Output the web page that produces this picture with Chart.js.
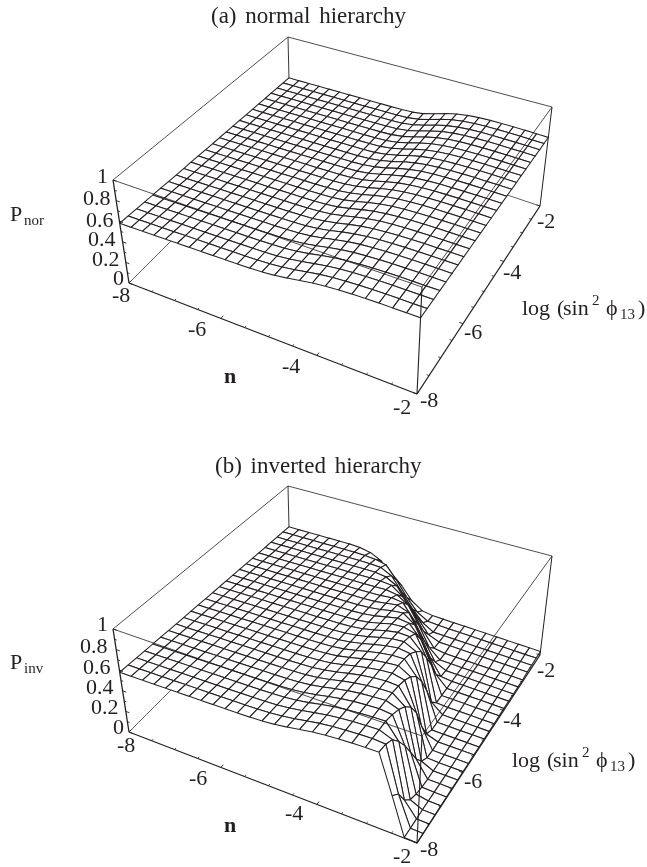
<!DOCTYPE html>
<html>
<head>
<meta charset="utf-8">
<title>P vs n and log(sin^2 phi13)</title>
<style>
  html, body { margin: 0; padding: 0; background: #fff; }
  canvas { display: block; }
</style>
<script src="https://cdn.jsdelivr.net/npm/chart.js@4"></script>
</head>
<body>
<canvas id="plotA" width="647" height="433"></canvas>
<canvas id="plotB" width="647" height="434"></canvas>
<script>
// axis values of the sampled grid
const nValues = [-8,-7.75,-7.5,-7.25,-7,-6.75,-6.5,-6.25,-6,-5.75,-5.5,-5.25,-5,-4.75,-4.5,-4.25,-4,-3.75,-3.5,-3.25,-3,-2.75,-2.5,-2.25,-2];
const sValues = [-8,-7.75,-7.5,-7.25,-7,-6.75,-6.5,-6.25,-6,-5.75,-5.5,-5.25,-5,-4.75,-4.5,-4.25,-4,-3.75,-3.5,-3.25,-3,-2.75,-2.5,-2.25,-2];
const nTicks = [-8,-6,-4,-2];
const sTicks = [-8,-6,-4,-2];
const nMinor = [-7.5,-7,-6.5,-5.5,-5,-4.5,-3.5,-3,-2.5];
const sMinor = [-7.5,-7,-6.5,-5.5,-5,-4.5,-3.5,-3,-2.5];
const pTicks = [0,0.2,0.4,0.6,0.8,1];
const pMinor = [0.1,0.3,0.5,0.7,0.9];

// P in percent. row = s value, column = n value
const pNormal = [
[58.0,58.1,58.3,58.5,58.7,58.9,59.1,59.3,59.5,59.7,59.9,60.2,60.8,61.9,63.6,65.7,67.6,69.0,69.9,70.5,70.9,71.1,71.2,71.2,71.2],
[57.8,57.9,58.1,58.3,58.5,58.7,58.9,59.1,59.3,59.5,59.7,60.0,60.6,61.7,63.4,65.6,67.6,69.0,69.9,70.5,70.9,71.1,71.1,71.1,71.1],
[57.5,57.6,57.8,58.0,58.2,58.4,58.6,58.8,59.0,59.2,59.4,59.7,60.3,61.5,63.3,65.5,67.5,68.9,69.9,70.4,70.8,71.0,71.1,71.1,71.0],
[57.2,57.3,57.5,57.7,57.9,58.1,58.3,58.5,58.7,58.9,59.1,59.4,60.0,61.2,63.1,65.4,67.5,68.9,69.8,70.4,70.8,71.0,71.0,71.0,71.0],
[57.0,57.1,57.3,57.5,57.7,57.9,58.1,58.3,58.5,58.7,58.9,59.2,59.8,61.0,63.0,65.3,67.4,68.9,69.8,70.4,70.7,70.9,71.0,70.9,70.9],
[56.8,56.9,57.1,57.3,57.5,57.7,57.9,58.1,58.3,58.5,58.7,59.0,59.6,60.8,62.8,65.2,67.4,68.9,69.8,70.4,70.7,70.9,70.9,70.9,70.8],
[56.5,56.6,56.8,57.0,57.2,57.4,57.6,57.8,58.0,58.2,58.4,58.7,59.3,60.6,62.6,65.2,67.3,68.8,69.8,70.3,70.7,70.8,70.8,70.8,70.7],
[56.2,56.3,56.5,56.7,56.9,57.1,57.3,57.5,57.7,57.9,58.1,58.4,59.0,60.4,62.5,65.1,67.3,68.8,69.7,70.3,70.6,70.8,70.8,70.7,70.6],
[56.0,56.1,56.3,56.5,56.7,56.9,57.1,57.3,57.5,57.7,57.9,58.2,58.8,60.1,62.3,65.0,67.2,68.8,69.7,70.3,70.6,70.7,70.7,70.6,70.6],
[55.8,55.9,56.1,56.3,56.5,56.7,56.9,57.1,57.3,57.5,57.7,58.0,58.6,59.9,62.2,64.9,67.2,68.7,69.7,70.2,70.5,70.7,70.7,70.6,70.5],
[55.5,55.6,55.8,56.0,56.2,56.4,56.6,56.8,57.0,57.2,57.4,57.7,58.3,59.7,62.0,64.8,67.1,68.7,69.7,70.2,70.5,70.6,70.6,70.5,70.4],
[55.2,55.3,55.5,55.7,55.9,56.1,56.3,56.5,56.7,56.9,57.1,57.4,58.0,59.5,61.8,64.7,67.1,68.7,69.6,70.2,70.5,70.6,70.5,70.4,70.3],
[55.0,55.1,55.3,55.5,55.7,55.9,56.1,56.3,56.5,56.7,56.9,57.2,57.8,59.3,61.7,64.6,67.0,68.6,69.6,70.1,70.4,70.5,70.5,70.4,70.2],
[54.8,54.9,55.1,55.3,55.5,55.7,55.9,56.1,56.3,56.5,56.7,57.0,57.6,59.0,61.5,64.5,67.0,68.6,69.6,70.1,70.4,70.5,70.4,70.3,70.2],
[54.5,54.6,54.8,55.0,55.2,55.4,55.6,55.8,56.0,56.2,56.4,56.7,57.3,58.8,61.4,64.4,66.9,68.6,69.5,70.1,70.3,70.4,70.4,70.2,70.1],
[54.2,54.3,54.5,54.7,54.9,55.1,55.3,55.5,55.7,55.9,56.1,56.4,57.0,58.6,61.2,64.3,66.9,68.6,69.5,70.1,70.3,70.4,70.3,70.2,70.0],
[54.0,54.1,54.3,54.5,54.7,54.9,55.1,55.3,55.5,55.7,55.9,56.2,56.8,58.4,61.0,64.3,66.8,68.5,69.5,70.0,70.3,70.3,70.2,70.1,69.9],
[53.8,53.9,54.1,54.3,54.5,54.7,54.9,55.1,55.3,55.5,55.7,56.0,56.6,58.2,60.9,64.2,66.8,68.5,69.5,70.0,70.2,70.3,70.2,70.0,69.8],
[53.5,53.6,53.8,54.0,54.2,54.4,54.6,54.8,55.0,55.2,55.4,55.7,56.3,57.9,60.7,64.1,66.7,68.5,69.5,70.0,70.2,70.2,70.1,69.9,69.8],
[53.2,53.3,53.5,53.7,53.9,54.1,54.3,54.5,54.7,54.9,55.1,55.4,56.0,57.7,60.6,64.0,66.7,68.4,69.4,69.9,70.1,70.2,70.1,69.9,69.7],
[53.0,53.1,53.3,53.5,53.7,53.9,54.1,54.3,54.5,54.7,54.9,55.2,55.8,57.5,60.4,63.9,66.6,68.4,69.4,69.9,70.1,70.1,70.0,69.8,69.6],
[52.8,52.9,53.1,53.3,53.5,53.7,53.9,54.1,54.3,54.5,54.7,55.0,55.6,57.3,60.2,63.8,66.6,68.4,69.4,69.9,70.1,70.1,69.9,69.7,69.5],
[52.5,52.6,52.8,53.0,53.2,53.4,53.6,53.8,54.0,54.2,54.4,54.7,55.3,57.1,60.1,63.7,66.5,68.3,69.4,69.8,70.0,70.0,69.9,69.7,69.4],
[52.2,52.3,52.5,52.7,52.9,53.1,53.3,53.5,53.7,53.9,54.1,54.4,55.0,56.8,59.9,63.6,66.5,68.3,69.3,69.8,70.0,70.0,69.8,69.6,69.4],
[52.0,52.1,52.3,52.5,52.7,52.9,53.1,53.3,53.5,53.7,53.9,54.2,54.8,56.6,59.8,63.5,66.4,68.3,69.3,69.8,69.9,69.9,69.8,69.5,69.3]
];
const pInverted = [
[58.0,58.1,58.3,58.5,58.7,58.9,59.1,59.3,59.5,59.7,59.9,60.2,60.8,61.9,63.6,65.7,67.6,69.0,69.9,70.5,70.9,71,35,0.5,0],
[57.8,57.9,58.1,58.3,58.5,58.7,58.9,59.1,59.3,59.5,59.7,60.0,60.6,61.7,63.4,65.6,67.6,69.0,69.9,70.5,70.9,70,28,0.5,0.2],
[57.5,57.6,57.8,58.0,58.2,58.4,58.6,58.8,59.0,59.2,59.4,59.7,60.3,61.5,63.3,65.5,67.5,68.9,69.9,70.4,70.8,66,14,0.8,0.5],
[57.2,57.3,57.5,57.7,57.9,58.1,58.3,58.5,58.7,58.9,59.1,59.4,60.0,61.2,63.1,65.4,67.5,68.9,69.8,70.4,70.8,56,6,1,0.8],
[57.0,57.1,57.3,57.5,57.7,57.9,58.1,58.3,58.5,58.7,58.9,59.2,59.8,61.0,63.0,65.3,67.4,68.9,69.8,70.4,69,44,3,1,1],
[56.8,56.9,57.1,57.3,57.5,57.7,57.9,58.1,58.3,58.5,58.7,59.0,59.6,60.8,62.8,65.2,67.4,68.9,69.8,70.4,66,30,1.5,1,1],
[56.5,56.6,56.8,57.0,57.2,57.4,57.6,57.8,58.0,58.2,58.4,58.7,59.3,60.6,62.6,65.2,67.3,68.8,69.8,70,61,16,1,1,1],
[56.2,56.3,56.5,56.7,56.9,57.1,57.3,57.5,57.7,57.9,58.1,58.4,59.0,60.4,62.5,65.1,67.3,68.8,69.7,69,53,6,1,1,1],
[56.0,56.1,56.3,56.5,56.7,56.9,57.1,57.3,57.5,57.7,57.9,58.2,58.8,60.1,62.3,65.0,67.2,68.8,69.7,67,40,1.5,1,1,1],
[55.8,55.9,56.1,56.3,56.5,56.7,56.9,57.1,57.3,57.5,57.7,58.0,58.6,59.9,62.2,64.9,67.2,68.7,69.7,63,20,1,1,1,1],
[55.5,55.6,55.8,56.0,56.2,56.4,56.6,56.8,57.0,57.2,57.4,57.7,58.3,59.7,62.0,64.8,67.1,68.7,69,56,5,1.5,1.5,1.5,1.5],
[55.2,55.3,55.5,55.7,55.9,56.1,56.3,56.5,56.7,56.9,57.1,57.4,58.0,59.5,61.8,64.7,67.1,68.7,67,44,1.5,1.5,1.5,1.5,1.5],
[55.0,55.1,55.3,55.5,55.7,55.9,56.1,56.3,56.5,56.7,56.9,57.2,57.8,59.3,61.7,64.6,67,68,62,28,1.5,1.5,1.5,1.5,1.5],
[54.8,54.9,55.1,55.3,55.5,55.7,55.9,56.1,56.3,56.5,56.7,57.0,57.6,59.0,61.5,64.5,66.5,66,55,10,1.5,1.5,1.5,1.5,1.5],
[54.5,54.6,54.8,55.0,55.2,55.4,55.6,55.8,56.0,56.2,56.4,56.7,57.3,58.8,61.4,64.4,65,62,42,2,1.5,1.5,1.5,1.5,1.5],
[54.2,54.3,54.5,54.7,54.9,55.1,55.3,55.5,55.7,55.9,56.1,56.4,57.0,58.6,61.2,63.5,62,50,28,2,2,2,2,2,2],
[54.0,54.1,54.3,54.5,54.7,54.9,55.1,55.3,55.5,55.7,55.9,56.2,56.8,58.4,60.8,62,54,34,12,2,2,2,2,2,2],
[53.8,53.9,54.1,54.3,54.5,54.7,54.9,55.1,55.3,55.5,55.7,56.0,56.6,58.2,60,56,38,18,3,2,2,2,2,2,2],
[53.5,53.6,53.8,54.0,54.2,54.4,54.6,54.8,55.0,55.2,55.4,55.7,56.3,57.5,56,42,24,7,2,2,2,2,2,2,2],
[53.2,53.3,53.5,53.7,53.9,54.1,54.3,54.5,54.7,54.9,55.1,55.4,55.8,54,47,30,11,2,2,2,2,2,2,2,2],
[53.0,53.1,53.3,53.5,53.7,53.9,54.1,54.3,54.5,54.7,54.9,55,54,46,33,17,3.5,2,2,2,2,2,2,2,2],
[52.8,52.9,53.1,53.3,53.5,53.7,53.9,54.1,54.3,54.5,54.5,53,47,32,20,7,3,3,3,3,3,3,3,3,3],
[52.5,52.6,52.8,53.0,53.2,53.4,53.6,53.8,54.0,54,53.5,48,34,20,9,3,3,3,3,3,3,3,3,3,3],
[52.2,52.3,52.5,52.7,52.9,53.1,53.3,53.5,53.3,52.5,50,37,22,10,4,3.5,3.5,3.5,3.5,3.5,3.5,3.5,3.5,3.5,3.5],
[52.0,52.1,52.3,52.5,52.7,52.9,53.1,52.6,50.5,45,35,25,12,5,3.5,3.5,3.5,3.5,3.5,3.5,3.5,3.5,3.5,3.5,3.5]
];

const INK = "#231f20";
const SERIF = '"Liberation Serif", serif';

// perspective of the box: the page positions of its floor and its lid,
// corners in order (n,s) = (-8,-8) (-2,-8) (-2,-2) (-8,-2)
const floorQuad = [[129,283],[417,394],[540,206],[290,122]];
const lidQuad = [[113,180],[422,287],[552,107],[288,37]];

function homography(q) {
  const [p0, p1, p2, p3] = q;
  const dx1 = p1[0]-p2[0], dx2 = p3[0]-p2[0], sx = p0[0]-p1[0]+p2[0]-p3[0];
  const dy1 = p1[1]-p2[1], dy2 = p3[1]-p2[1], sy = p0[1]-p1[1]+p2[1]-p3[1];
  const det = dx1*dy2 - dx2*dy1;
  const g = (sx*dy2 - dx2*sy)/det, h = (dx1*sy - sx*dy1)/det;
  return (u, v) => {
    const w = g*u + h*v + 1;
    return [
      ((p1[0]-p0[0]+g*p1[0])*u + (p3[0]-p0[0]+h*p3[0])*v + p0[0])/w,
      ((p1[1]-p0[1]+g*p1[1])*u + (p3[1]-p0[1]+h*p3[1])*v + p0[1])/w
    ];
  };
}
const onFloor = homography(floorQuad);
const onLid = homography(lidQuad);

function project(n, s, p, dy) {
  const u = (n+8)/6, v = (s+8)/6;
  const a = onFloor(u, v), b = onLid(u, v);
  return { x: a[0]+(b[0]-a[0])*p, y: a[1]+(b[1]-a[1])*p+dy };
}

function buildDatasets(table, dy) {
  const sets = [];
  const add = (pts, width, filled) => sets.push({
    data: pts,
    showLine: true,
    borderColor: INK,
    borderWidth: width,
    borderDash: [2000, 0],
    pointRadius: 0,
    fill: filled ? "shape" : false,
    backgroundColor: "#fff",
    order: -sets.length
  });
  const edge = (a, b, width) => add([project(a[0],a[1],a[2],dy), project(b[0],b[1],b[2],dy)], width, false);

  // box edges behind the surface
  edge([-8,-2,0], [-8,-2,1], 0.9);
  edge([-8,-8,0], [-8,-2,0], 0.7);
  edge([-8,-2,0], [-2,-2,0], 0.7);

  // surface, back cells first so nearer cells cover them
  for (let j = sValues.length-2; j >= 0; j--) {
    for (let i = 0; i < nValues.length-1; i++) {
      add([
        project(nValues[i], sValues[j], table[j][i]/100, dy),
        project(nValues[i+1], sValues[j], table[j][i+1]/100, dy),
        project(nValues[i+1], sValues[j+1], table[j+1][i+1]/100, dy),
        project(nValues[i], sValues[j+1], table[j+1][i]/100, dy),
        project(nValues[i], sValues[j], table[j][i]/100, dy)
      ], 1.05, true);
    }
  }

  // box edges in front
  edge([-8,-8,1], [-8,-2,1], 0.8);
  edge([-8,-2,1], [-2,-2,1], 0.8);
  edge([-2,-2,1], [-2,-8,1], 0.8);
  edge([-2,-8,1], [-8,-8,1], 0.8);
  edge([-2,-2,1], [-2,-2,0], 1);
  edge([-2,-8,1], [-2,-8,0], 1.1);
  edge([-8,-8,1], [-8,-8,0], 1.3);
  edge([-8,-8,0], [-2,-8,0], 1.3);
  edge([-2,-8,0], [-2,-2,0], 1.3);

  // ticks
  nTicks.forEach(n => edge([n,-8,0], [n,-7.92,0], 0.9));
  nMinor.forEach(n => edge([n,-8,0], [n,-7.95,0], 0.8));
  sTicks.forEach(s => edge([-2,s,0], [-2.08,s,0], 0.9));
  sMinor.forEach(s => edge([-2,s,0], [-2.05,s,0], 0.8));
  pTicks.forEach(p => edge([-8,-8,p], [-7.92,-8,p], 0.9));
  pMinor.forEach(p => edge([-8,-8,p], [-7.95,-8,p], 0.8));
  return sets;
}

// text pieces: string, x, baseline y, font
const labelsA = [
  ["(a) normal hierarchy", 211, 23, "23px"],
  ["1", 97, 183, "22px"], ["0.8", 83, 205, "22px"], ["0.6", 86, 227, "22px"], ["0.4", 88, 246, "22px"], ["0.2", 92, 266, "22px"], ["0", 113, 285, "22px"],
  ["-8", 112, 302, "22px"], ["-6", 188, 336, "22px"], ["-4", 282, 373, "22px"], ["-2", 393, 414, "22px"],
  ["-8", 420, 407, "22px"], ["-6", 464, 339, "22px"], ["-4", 503, 279, "22px"], ["-2", 537, 228, "22px"],
  ["n", 224, 383, "bold 22px"],
  ["P", 10, 221, "22px"], ["nor", 24, 225, "15px"],
  ["log", 522, 315, "22px"], ["(", 557, 315, "22px"], ["sin", 563, 315, "22px"], ["2", 592, 305, "15px"], ["ϕ", 606, 315, "22px"], ["13", 620, 319, "15px"], [")", 638, 315, "22px"]
];
const labelsB = [
  ["(b) inverted hierarchy", 215, 40, "23px"],
  ["1", 97, 198, "22px"], ["0.8", 80, 220, "22px"], ["0.6", 83, 241, "22px"], ["0.4", 86, 261, "22px"], ["0.2", 91, 281, "22px"], ["0", 113, 301, "22px"],
  ["-8", 117, 319, "22px"], ["-6", 189, 352, "22px"], ["-4", 285, 387, "22px"], ["-2", 393, 430, "22px"],
  ["-8", 420, 423, "22px"], ["-6", 464, 355, "22px"], ["-4", 503, 294, "22px"], ["-2", 537, 244, "22px"],
  ["n", 224, 399, "bold 22px"],
  ["P", 10, 236, "22px"], ["inv", 24, 240, "15px"],
  ["log", 512, 334, "22px"], ["(", 547, 334, "22px"], ["sin", 553, 334, "22px"], ["2", 582, 324, "15px"], ["ϕ", 596, 334, "22px"], ["13", 610, 338, "15px"], [")", 628, 334, "22px"]
];

const textPlugin = {
  id: "panelText",
  afterDraw(chart, args, opts) {
    const ctx = chart.ctx;
    ctx.save();
    ctx.fillStyle = INK;
    ctx.textAlign = "left";
    ctx.textBaseline = "alphabetic";
    ctx.wordSpacing = "3px";
    opts.items.forEach(t => {
      ctx.font = t[3] + " " + SERIF;
      ctx.fillText(t[0], t[1], t[2]);
    });
    ctx.restore();
  }
};

function drawPanel(id, table, dy, labels) {
  const canvas = document.getElementById(id);
  new Chart(canvas, {
    type: "scatter",
    data: { datasets: buildDatasets(table, dy) },
    options: {
      responsive: false,
      animation: false,
      events: [],
      layout: { padding: 0 },
      plugins: {
        legend: { display: false },
        title: { display: false },
        tooltip: { enabled: false },
        panelText: { items: labels }
      },
      scales: {
        x: { type: "linear", display: false, min: 0, max: canvas.width },
        y: { type: "linear", display: false, min: 0, max: canvas.height, reverse: true }
      }
    },
    plugins: [textPlugin]
  });
}

drawPanel("plotA", pNormal, 0, labelsA);
drawPanel("plotB", pInverted, 16, labelsB);
</script>
</body>
</html>
